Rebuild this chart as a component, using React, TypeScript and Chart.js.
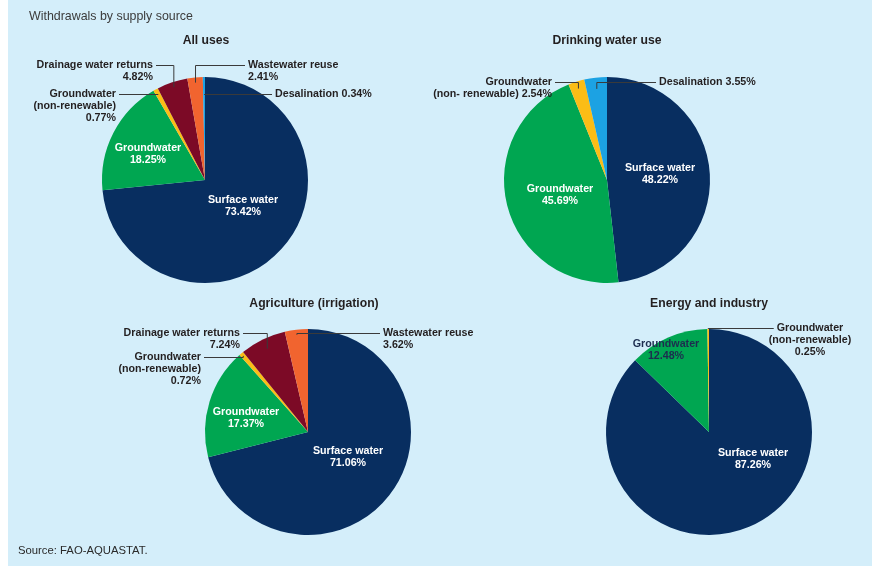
import React, { useEffect, useRef } from "react";
import { Chart, registerables } from "chart.js";

Chart.register(...registerables);

const W = 872;
const H = 570;

// ---------- data ----------
const sources = [
  "Surface water",
  "Groundwater",
  "Groundwater (non-renewable)",
  "Drainage water returns",
  "Wastewater reuse",
  "Desalination",
];
const sourceColors = ["#082e60", "#00a651", "#fbbd16", "#7c0a26", "#f1642f", "#1ca2e3"];

const chartTitles = ["All uses", "Drinking water use", "Agriculture (irrigation)", "Energy and industry"];
const allUsesValues = [73.42, 18.25, 0.77, 4.82, 2.41, 0.34];
const drinkingValues = [48.22, 45.69, 2.54, 0, 0, 3.55];
const agricultureValues = [71.06, 17.37, 0.72, 7.24, 3.62, 0];
const energyValues = [87.26, 12.48, 0.25, 0, 0, 0];

const headerText = "Withdrawals by supply source";
const sourceText = "Source: FAO-AQUASTAT.";

// ---------- styling / layout ----------
const BG = "#d4eefa";
const TEXT_DARK = "#231f20";
const FONT = '"Liberation Sans", Arial, sans-serif';
const LABEL_FONT = `bold 10.7px ${FONT}`;
const LINE_H = 12;

type LabelSpec = {
  slice: number;
  lines: (name: string, pct: string) => string[];
  dx: number;
  dy: number;
  align: "left" | "right" | "center";
  color?: string;
  leader?: number;
};

const inside = (name: string, pct: string) => [name, pct];
const gwNR3 = (_n: string, pct: string) => ["Groundwater", "(non-renewable)", pct];
const twoLine = (name: string, pct: string) => [name, pct];
const oneLine = (name: string, pct: string) => [`${name} ${pct}`];

type PieLayout = {
  values: number[];
  title: string;
  cx: number;
  cy: number;
  r: number;
  titleDx: number;
  titleY: number;
  labels: LabelSpec[];
};

const pies: PieLayout[] = [
  {
    values: allUsesValues,
    title: chartTitles[0],
    cx: 205,
    cy: 180,
    r: 103,
    titleDx: 1,
    titleY: 41,
    labels: [
      { slice: 0, lines: inside, dx: 38, dy: 20, align: "center", color: "#ffffff" },
      { slice: 1, lines: inside, dx: -57, dy: -32, align: "center", color: "#ffffff" },
      { slice: 2, lines: gwNR3, dx: -89, dy: -86, align: "right", leader: 0.95 },
      { slice: 3, lines: twoLine, dx: -52, dy: -115, align: "right", leader: 0.95 },
      { slice: 4, lines: twoLine, dx: 43, dy: -115, align: "left", leader: 0.95 },
      { slice: 5, lines: oneLine, dx: 70, dy: -86, align: "left", leader: 0.83 },
    ],
  },
  {
    values: drinkingValues,
    title: chartTitles[1],
    cx: 607,
    cy: 180,
    r: 103,
    titleDx: 0,
    titleY: 41,
    labels: [
      { slice: 0, lines: inside, dx: 53, dy: -12, align: "center", color: "#ffffff" },
      { slice: 1, lines: inside, dx: -47, dy: 9, align: "center", color: "#ffffff" },
      {
        slice: 2,
        lines: (_n, pct) => ["Groundwater", `(non- renewable) ${pct}`],
        dx: -55,
        dy: -98,
        align: "right",
        leader: 0.93,
      },
      { slice: 5, lines: oneLine, dx: 52, dy: -98, align: "left", leader: 0.89 },
    ],
  },
  {
    values: agricultureValues,
    title: chartTitles[2],
    cx: 308,
    cy: 432,
    r: 103,
    titleDx: 6,
    titleY: 304,
    labels: [
      { slice: 0, lines: inside, dx: 40, dy: 19, align: "center", color: "#ffffff" },
      { slice: 1, lines: inside, dx: -62, dy: -20, align: "center", color: "#ffffff" },
      { slice: 2, lines: gwNR3, dx: -107, dy: -75, align: "right", leader: 0.97 },
      { slice: 3, lines: twoLine, dx: -68, dy: -99, align: "right", leader: 0.9 },
      { slice: 4, lines: twoLine, dx: 75, dy: -99, align: "left", leader: 0.95 },
    ],
  },
  {
    values: energyValues,
    title: chartTitles[3],
    cx: 709,
    cy: 432,
    r: 103,
    titleDx: 0,
    titleY: 304,
    labels: [
      { slice: 0, lines: inside, dx: 44, dy: 21, align: "center", color: "#ffffff" },
      { slice: 1, lines: inside, dx: -43, dy: -88, align: "center", color: "#1c2d4f" },
      { slice: 2, lines: gwNR3, dx: 101, dy: -104, align: "center", leader: 1.0 },
    ],
  },
];

function makeLabelPlugin(p: PieLayout, drawFrameText: boolean) {
  return {
    id: "pieLabels",
    afterDraw(chart: any) {
      const ctx: CanvasRenderingContext2D = chart.ctx;
      const meta = chart.getDatasetMeta(0);
      ctx.save();
      if (drawFrameText) {
        ctx.fillStyle = "#3b3b3b";
        ctx.textBaseline = "middle";
        ctx.textAlign = "left";
        ctx.font = `12.4px ${FONT}`;
        ctx.fillText(headerText, 29, 17);
        ctx.font = `11.3px ${FONT}`;
        ctx.fillStyle = "#2a2a2a";
        ctx.fillText(sourceText, 18, 551);
      }
      // title
      ctx.font = `bold 12.2px ${FONT}`;
      ctx.fillStyle = TEXT_DARK;
      ctx.textAlign = "center";
      ctx.textBaseline = "middle";
      ctx.fillText(p.title, p.cx + p.titleDx, p.titleY);

      ctx.font = LABEL_FONT;
      p.labels.forEach((lab) => {
        const arc = meta.data[lab.slice];
        const v = p.values[lab.slice];
        const pct = `${v.toFixed(2)}%`;
        const lines = lab.lines(sources[lab.slice], pct);
        const tx = arc.x + lab.dx;
        const ty = arc.y + lab.dy;
        ctx.fillStyle = lab.color || TEXT_DARK;
        ctx.textAlign = lab.align;
        lines.forEach((ln, i) => ctx.fillText(ln, tx, ty + i * LINE_H));
        if (lab.leader !== undefined) {
          const w0 = ctx.measureText(lines[0]).width;
          let sx = tx;
          if (lab.align === "right") sx = tx + 3;
          else if (lab.align === "left") sx = tx - 3;
          else sx = tx - w0 / 2 - 3;
          const mid = (arc.startAngle + arc.endAngle) / 2;
          const rr = arc.outerRadius * lab.leader;
          const px = arc.x + Math.cos(mid) * rr;
          const py = arc.y + Math.sin(mid) * rr;
          ctx.strokeStyle = "#3a3a3a";
          ctx.lineWidth = 1;
          ctx.beginPath();
          ctx.moveTo(sx, ty + 0.5);
          ctx.lineTo(px, ty + 0.5);
          ctx.lineTo(px, py);
          ctx.stroke();
        }
      });
      ctx.restore();
    },
  };
}

function PieCanvas({ layout, frameText }: { layout: PieLayout; frameText: boolean }) {
  const ref = useRef<HTMLCanvasElement | null>(null);
  useEffect(() => {
    if (!ref.current) return;
    const p = layout;
    const chart = new Chart(ref.current, {
      type: "pie",
      data: {
        labels: sources,
        datasets: [
          {
            data: p.values,
            backgroundColor: sourceColors,
            borderWidth: 0,
          },
        ],
      },
      options: {
        responsive: false,
        animation: false,
        events: [],
        layout: {
          padding: {
            left: p.cx - p.r,
            top: p.cy - p.r,
            right: W - p.cx - p.r,
            bottom: H - p.cy - p.r,
          },
        },
        plugins: {
          legend: { display: false },
          tooltip: { enabled: false },
          title: { display: false },
        },
      },
      plugins: [makeLabelPlugin(p, frameText)],
    });
    return () => chart.destroy();
  }, [layout, frameText]);
  return (
    <canvas
      ref={ref}
      width={W}
      height={H}
      style={{ position: "absolute", left: 0, top: 0, width: W, height: H }}
    />
  );
}

export default function App() {
  return (
    <div style={{ position: "absolute", left: 0, top: 0, width: W, height: H, background: "#ffffff", overflow: "hidden" }}>
      <div style={{ position: "absolute", left: 8, top: 0, width: 864, height: 566, background: BG }} />
      {pies.map((p, i) => (
        <PieCanvas key={i} layout={p} frameText={i === 0} />
      ))}
    </div>
  );
}
